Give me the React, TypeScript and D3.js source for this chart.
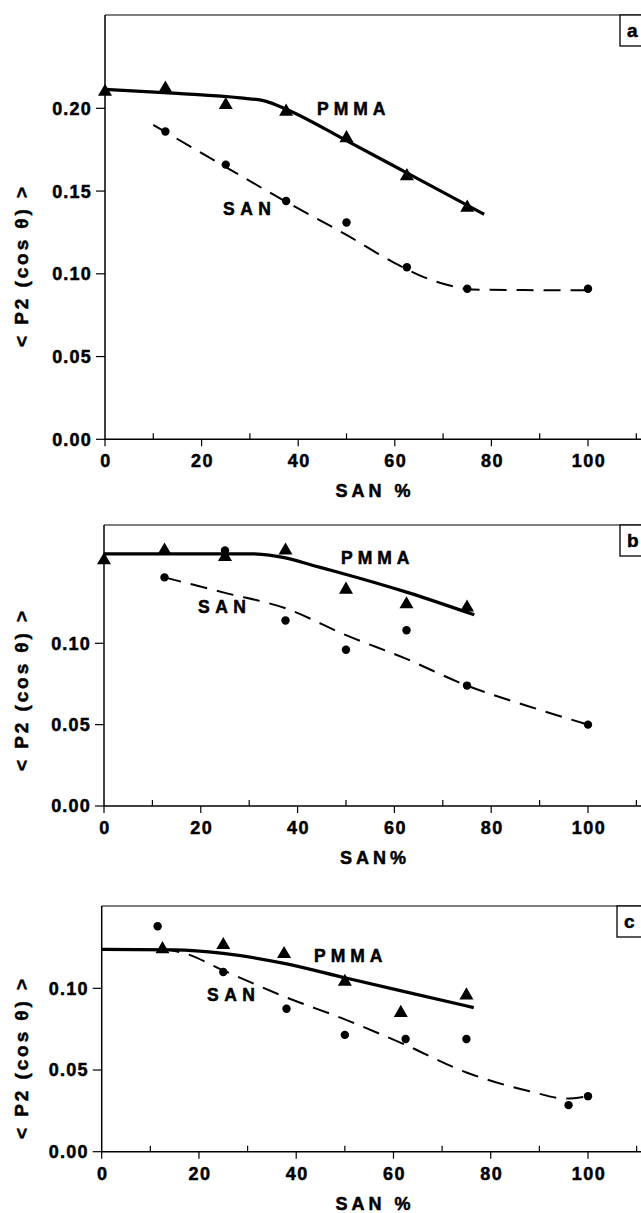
import React from 'react';
import * as d3 from 'd3';

const W = 641;
const H = 1213;
const FONT = '"Liberation Sans", Arial, Helvetica, sans-serif';

// ticks
const xTicks = [0, 20, 40, 60, 80, 100];
const xMinorTicks = [10, 30, 50, 70, 90, 110];
const yTicksA = [0, 0.05, 0.1, 0.15, 0.2];
const yTicksB = [0, 0.05, 0.1];
const yTicksC = [0, 0.05, 0.1];

// panel a
const pmmaXA = [0, 12.5, 25, 37.5, 50, 62.5, 75];
const pmmaYA = [0.210, 0.212, 0.202, 0.198, 0.182, 0.159, 0.140];
const sanXA = [12.5, 25, 37.5, 50, 62.5, 75, 100];
const sanYA = [0.186, 0.166, 0.144, 0.131, 0.104, 0.091, 0.091];
const pmmaFitXA = [0, 15, 28, 33, 37.5, 50, 62.5, 78.5];
const pmmaFitYA = [0.2115, 0.209, 0.2063, 0.2045, 0.1995, 0.1805, 0.161, 0.136];
const sanFitXA = [10, 25, 37.5, 50, 60, 66, 72, 76, 100];
const sanFitYA = [0.19, 0.1645, 0.1435, 0.1235, 0.1065, 0.098, 0.0925, 0.0905, 0.090];

// panel b
const pmmaXB = [0, 12.5, 25, 37.5, 50, 62.5, 75];
const pmmaYB = [0.151, 0.157, 0.153, 0.157, 0.133, 0.124, 0.122];
const sanXB = [12.5, 25, 37.5, 50, 62.5, 75, 100];
const sanYB = [0.1405, 0.157, 0.114, 0.096, 0.108, 0.074, 0.050];
const pmmaFitXB = [0, 30, 37.5, 43, 48, 63, 76.5];
const pmmaFitYB = [0.155, 0.155, 0.1525, 0.148, 0.144, 0.131, 0.1175];
const sanFitXB = [12.5, 25, 37.5, 50, 62, 75, 87.5, 100];
const sanFitYB = [0.1405, 0.131, 0.1215, 0.105, 0.091, 0.074, 0.0615, 0.050];

// panel c
const pmmaXC = [12.5, 25, 37.5, 50, 61.5, 75];
const pmmaYC = [0.124, 0.1265, 0.121, 0.104, 0.085, 0.0957];
const sanXC = [11.5, 25, 38, 50, 62.5, 75, 96, 100];
const sanYC = [0.138, 0.110, 0.0875, 0.0715, 0.069, 0.069, 0.0285, 0.034];
const pmmaFitXC = [0, 15, 25, 37.5, 50, 62.5, 76.5];
const pmmaFitYC = [0.1238, 0.1236, 0.1214, 0.1153, 0.1065, 0.0978, 0.0882];
const sanFitXC = [12.5, 17, 25, 37.5, 50, 62, 75, 88, 95.5, 100];
const sanFitYC = [0.124, 0.1215, 0.111, 0.095, 0.081, 0.066, 0.0485, 0.037, 0.0325, 0.034];

const zip = (xs: number[], ys: number[]) => xs.map((v, i) => [v, ys[i]] as [number, number]);

const panels = [
  {
    key: 'a', x0: 105, x100: 588, top: 15, bottom: 439.3, yMax: 0.2564, boxX: 620,
    yTicks: yTicksA, xTitle: 'SAN %', titleY: 267,
    pmma: zip(pmmaXA, pmmaYA), san: zip(sanXA, sanYA),
    pmmaFit: zip(pmmaFitXA, pmmaFitYA), sanFit: zip(sanFitXA, sanFitYA),
    pmmaLabel: [317, 109], sanLabel: [223, 209],
  },
  {
    key: 'b', x0: 104, x100: 588, top: 525, bottom: 806, yMax: 0.1727, boxX: 620,
    yTicks: yTicksB, xTitle: 'SAN%', titleY: 691,
    pmma: zip(pmmaXB, pmmaYB), san: zip(sanXB, sanYB),
    pmmaFit: zip(pmmaFitXB, pmmaFitYB), sanFit: zip(sanFitXB, sanFitYB),
    pmmaLabel: [341, 558], sanLabel: [198, 607],
  },
  {
    key: 'c', x0: 101.7, x100: 588, top: 906, bottom: 1151.7, yMax: 0.1504, boxX: 617,
    yTicks: yTicksC, xTitle: 'SAN %', titleY: 1059,
    pmma: zip(pmmaXC, pmmaYC), san: zip(sanXC, sanYC),
    pmmaFit: zip(pmmaFitXC, pmmaFitYC), sanFit: zip(sanFitXC, sanFitYC),
    pmmaLabel: [314, 956], sanLabel: [207, 995],
  },
];

const tri = d3.symbol(d3.symbolTriangle, 85)() as string;

// heavy text, the print uses a very black sans
const bold = { fontFamily: FONT, fontWeight: 700, stroke: '#000', strokeWidth: 0.5 };

function Panel({ p }: { p: typeof panels[number] }) {
  const x = d3.scaleLinear().domain([0, 100]).range([p.x0, p.x100]);
  const y = d3.scaleLinear().domain([0, p.yMax]).range([p.bottom, p.top]);
  const line = d3.line<[number, number]>()
    .x(d => x(d[0]))
    .y(d => y(d[1]))
    .curve(d3.curveMonotoneX);

  return (
    <g>
      {/* frame */}
      <line x1={p.x0} x2={700} y1={p.top} y2={p.top} stroke="#000" strokeWidth={1.2} />
      <line x1={p.x0} x2={p.x0} y1={p.top} y2={p.bottom} stroke="#000" strokeWidth={1.5} />
      <line x1={p.x0} x2={700} y1={p.bottom} y2={p.bottom} stroke="#000" strokeWidth={1.5} />

      {/* panel letter */}
      <rect x={p.boxX} y={p.top} width={40} height={31} fill="#fff" stroke="#000" strokeWidth={1.3} />
      <text x={p.boxX + 7} y={p.top + 22} fontSize={19} {...bold}>{p.key}</text>

      {/* x axis */}
      {xTicks.map(t => (
        <g key={'xt' + t}>
          <line x1={x(t)} x2={x(t)} y1={p.bottom} y2={p.bottom + 7} stroke="#000" strokeWidth={1.2} />
          <text x={x(t) + 1} y={p.bottom + 28} textAnchor="middle" fontSize={18}
            letterSpacing={1.5} {...bold}>{t}</text>
        </g>
      ))}
      {xMinorTicks.map(t => (
        <line key={'xm' + t} x1={x(t)} x2={x(t)} y1={p.bottom} y2={p.bottom - 6} stroke="#000" strokeWidth={1.2} />
      ))}
      <text x={375} y={p.bottom + 58} textAnchor="middle" fontSize={18}
        letterSpacing={4} {...bold}>{p.xTitle}</text>

      {/* y axis */}
      {p.yTicks.map(t => (
        <g key={'yt' + t}>
          <line x1={p.x0 - 9} x2={p.x0} y1={y(t)} y2={y(t)} stroke="#000" strokeWidth={1.2} />
          <text x={p.x0 - 13} y={y(t)} dy="0.36em" textAnchor="end" fontSize={18}
            letterSpacing={1.2} {...bold}>{t.toFixed(2)}</text>
        </g>
      ))}
      <text transform={`translate(21.5,${p.titleY}) rotate(-90)`} textAnchor="middle" dy="0.35em"
        fontSize={19} textLength={160} lengthAdjust="spacing" {...bold}>
        {'< P2 (cos θ) >'}
      </text>

      {/* fitted curves */}
      <path d={line(p.pmmaFit) || ''} fill="none" stroke="#000" strokeWidth={3.2} />
      <path d={line(p.sanFit) || ''} fill="none" stroke="#000" strokeWidth={2} strokeDasharray="17 10" />

      {/* points */}
      {p.san.map((d, i) => (
        <circle key={'s' + i} cx={x(d[0])} cy={y(d[1])} r={4.2} fill="#000" />
      ))}
      {p.pmma.map((d, i) => (
        <path key={'p' + i} d={tri} transform={`translate(${x(d[0])},${y(d[1])})`} fill="#000" />
      ))}

      {/* series labels */}
      <text x={p.pmmaLabel[0]} y={p.pmmaLabel[1]} dy="0.36em" fontSize={17.5}
        letterSpacing={5} {...bold}>PMMA</text>
      <text x={p.sanLabel[0]} y={p.sanLabel[1]} dy="0.36em" fontSize={17.5}
        letterSpacing={5.5} {...bold}>SAN</text>
    </g>
  );
}

export default function App() {
  return (
    <svg width={W} height={H} style={{ position: 'absolute', left: 0, top: 0, background: '#fff' }}>
      <rect width={W} height={H} fill="#fff" />
      {panels.map(p => <Panel key={p.key} p={p} />)}
    </svg>
  );
}
